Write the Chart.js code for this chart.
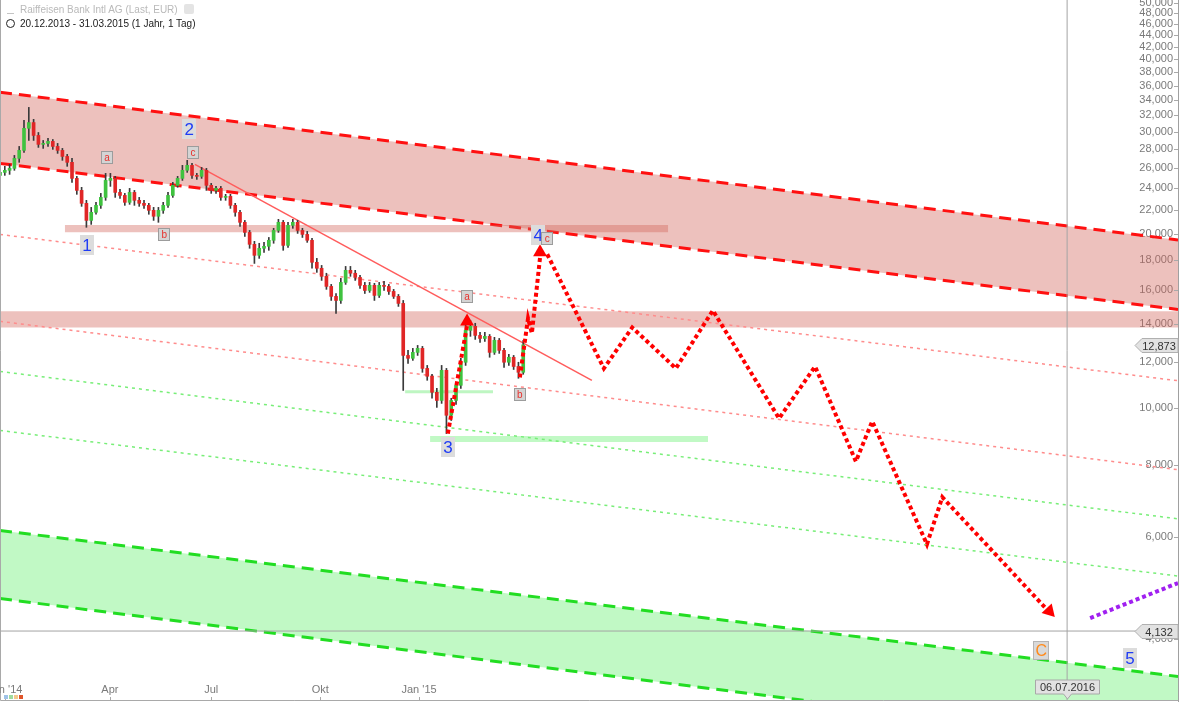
<!DOCTYPE html>
<html>
<head>
<meta charset="utf-8">
<script src="https://cdn.jsdelivr.net/npm/chart.js@4.4.1/dist/chart.umd.min.js"></script>
<style>
  body { margin: 0; background: #fff; font-family: "Liberation Sans", Arial, sans-serif; }
  #wrap { position: relative; width: 1183px; height: 702px; }
  .hdr { position: absolute; left: 20px; font-size: 10px; white-space: nowrap; }
  #h1 { top: 4px; color: #b9b9b9; }
  #h2 { top: 18px; color: #1a1a1a; }
  #gear { display: inline-block; vertical-align: -1px; margin-left: 6px; width: 10px; height: 10px; background: #e4e4e4; border-radius: 2px; }
  #ico1 { position: absolute; left: 7px; top: 6px; width: 7px; height: 7px; border-bottom: 1px solid #c4c4c4; }
  #ico2 { position: absolute; left: 6px; top: 19px; width: 7px; height: 7px; border: 1.5px solid #222; border-radius: 50%; }
  .sq { position: absolute; top: 695px; width: 4px; height: 4px; }
</style>
</head>
<body>
<div id="wrap">
  <canvas id="rbiChart" width="1183" height="702"></canvas>
  <div id="ico1"></div>
  <div class="hdr" id="h1">Raiffeisen Bank Intl AG (Last, EUR)<span id="gear"></span></div>
  <div id="ico2"></div>
  <div class="hdr" id="h2">20.12.2013 - 31.03.2015 (1 Jahr, 1 Tag)</div>
  <div class="sq" style="left:4px;background:#9fc3e8"></div>
  <div class="sq" style="left:9px;background:#9fdc9f"></div>
  <div class="sq" style="left:14px;background:#f2c98c"></div>
  <div class="sq" style="left:19px;background:#e0552a"></div>
</div>
<script>
// x axis unit = one candle slot (about 3 trading days), prices in EUR
const candleOpen = [
  25.22, 25.52, 25.73, 25.93, 26.98, 27.85, 30.40, 31.10, 29.55, 28.52,
  28.63, 28.86, 28.29, 27.85, 27.19, 26.56, 24.92, 23.76, 22.57, 21.09,
  21.78, 22.39, 23.11, 24.72, 24.92, 23.57, 23.29, 22.66, 23.57, 22.84,
  22.57, 22.39, 21.95, 21.44, 21.95, 22.39, 23.29, 24.24, 24.92, 25.73,
  26.24, 25.22, 25.12, 25.73, 24.24, 23.76, 23.95, 23.11, 23.20, 22.39,
  21.78, 20.93, 20.11, 19.18, 18.36, 18.88, 19.03, 19.49, 20.27, 20.93,
  19.10, 20.68, 20.93, 20.27, 19.95, 19.49, 17.86, 17.44, 16.89, 16.23,
  15.60, 15.35, 16.49, 17.30, 17.10, 16.82, 16.30, 15.97, 16.30, 15.66,
  16.30, 16.23, 15.91, 15.60, 15.17, 12.34, 12.20, 12.49, 12.69, 11.72,
  11.36, 10.66, 10.32, 11.63, 9.73, 10.32, 10.96, 12.01, 13.63, 13.85,
  13.36, 13.20, 13.31, 12.49, 13.10, 12.59, 12.01, 12.25, 11.81, 11.54
];
const candleClose = [
  25.52, 25.73, 25.93, 26.98, 27.85, 30.40, 31.10, 29.55, 28.52, 28.63,
  28.86, 28.29, 27.85, 27.19, 26.56, 24.92, 23.76, 22.57, 21.09, 21.78,
  22.39, 23.11, 24.72, 24.92, 23.57, 23.29, 22.66, 23.57, 22.84, 22.57,
  22.39, 21.95, 21.44, 21.95, 22.39, 23.29, 24.24, 24.92, 25.73, 26.24,
  25.22, 25.12, 25.73, 24.24, 23.76, 23.95, 23.11, 23.20, 22.39, 21.78,
  20.93, 20.11, 19.18, 18.36, 18.88, 19.03, 19.49, 20.27, 20.93, 19.10,
  20.68, 20.93, 20.27, 19.95, 19.49, 17.86, 17.44, 16.89, 16.23, 15.60,
  15.35, 16.49, 17.30, 17.10, 16.82, 16.30, 15.97, 16.30, 15.66, 16.30,
  16.23, 15.91, 15.60, 15.17, 12.34, 12.20, 12.49, 12.69, 11.72, 11.36,
  10.66, 10.32, 11.63, 9.73, 10.32, 10.96, 12.01, 13.63, 13.85, 13.36,
  13.20, 13.31, 12.49, 13.10, 12.59, 12.01, 12.25, 11.81, 11.54, 12.87
];
const candleHigh = [
  25.93, 26.14, 26.35, 27.30, 28.29, 31.38, 33.03, 31.50, 29.90, 28.97,
  29.20, 29.08, 28.63, 28.07, 27.41, 26.98, 25.12, 24.05, 22.84, 22.21,
  22.66, 23.48, 25.42, 25.42, 25.12, 23.86, 23.48, 23.95, 23.76, 23.11,
  22.84, 22.57, 22.21, 22.21, 22.66, 23.57, 24.53, 25.12, 26.24, 26.77,
  26.45, 25.42, 26.03, 25.93, 24.43, 24.14, 24.14, 23.39, 23.39, 22.57,
  21.95, 21.09, 20.27, 19.41, 19.26, 19.33, 19.71, 20.44, 21.18, 21.09,
  20.93, 21.18, 21.09, 20.44, 20.19, 19.64, 18.14, 17.64, 17.10, 16.36,
  15.78, 16.76, 17.57, 17.57, 17.30, 16.96, 16.49, 16.49, 16.43, 16.49,
  16.56, 16.36, 16.04, 15.72, 15.35, 12.59, 12.69, 12.84, 12.79, 11.86,
  11.45, 10.83, 11.86, 11.72, 10.41, 11.09, 12.20, 14.30, 14.18, 14.02,
  13.52, 13.52, 13.41, 13.26, 13.20, 12.69, 12.39, 12.34, 12.01, 13.10
];
const candleLow = [
  24.92, 25.22, 25.32, 25.73, 26.56, 27.63, 28.97, 28.97, 28.18, 28.07,
  28.29, 27.96, 27.52, 26.77, 26.14, 24.53, 23.39, 22.30, 20.52, 20.76,
  21.61, 22.12, 22.84, 24.14, 23.11, 23.02, 22.39, 22.48, 22.39, 22.30,
  22.12, 21.61, 21.09, 20.93, 21.69, 22.21, 23.11, 24.05, 24.72, 25.52,
  24.92, 24.82, 24.92, 23.76, 23.48, 23.48, 22.84, 22.84, 22.12, 21.44,
  20.60, 19.79, 18.88, 17.78, 18.14, 18.58, 18.73, 19.26, 20.11, 18.73,
  18.95, 20.44, 20.03, 19.71, 19.33, 17.44, 17.16, 16.62, 16.04, 15.35,
  14.58, 15.17, 16.36, 16.89, 16.62, 16.10, 15.78, 15.85, 15.35, 15.53,
  15.97, 15.72, 15.47, 14.99, 10.74, 11.96, 12.10, 12.34, 11.54, 11.18,
  10.41, 10.04, 10.20, 9.05, 9.53, 10.16, 10.83, 11.86, 13.31, 13.15,
  13.00, 13.05, 12.25, 12.39, 12.44, 11.77, 11.86, 11.67, 11.27, 11.45
];

// trend lines: [start, end] over the full x range
const fullX = [0, 245.4];
const redChannelTop = [35.09, 19.52];
const redChannelBottom = [26.45, 14.81];
const greenChannelTop = [6.16, 3.45];
const greenChannelBottom = [4.70, 2.60];
const redDottedUpper = [19.95, 11.16];
const redDottedLower = [14.13, 7.84];
const greenDottedUpper = [11.58, 6.45];
const greenDottedLower = [9.16, 5.14];
const downTrendX = [40.6, 123.3];
const downTrendY = [26.35, 11.18];

// support / resistance zones
const resZoneX = [13.5, 139.2];
const resZoneY = [20.70, 20.12];
const midZoneY = [14.70, 13.79];
const supLineX = [84.4, 102.7];
const supLineY = 10.68;
const supZoneX = [89.6, 147.5];
const supZoneY = [8.96, 8.75];

// projected Elliott path
const proj1X = [93.3, 97.3];
const proj1Y = [9.05, 13.9];
const proj2X = [108.3, 110.0, 110.8, 112.5];
const proj2Y = [11.31, 14.30, 13.47, 18.2];
const proj3X = [114.0, 125.8, 131.7, 140.8, 148.5, 162.3, 169.8, 178.3, 181.7, 193.1, 196.3, 218.1];
const proj3Y = [18.44, 11.72, 13.79, 11.72, 14.75, 9.61, 11.81, 8.10, 9.50, 5.83, 7.03, 4.50];
const arrowX = [97.3, 112.5, 218.6];
const arrowY = [14.12, 18.58, 4.47];
const arrowRot = [0, 0, 137];
const purpleX = [227.1, 245.4];
const purpleY = [4.35, 5.0];

const lastPrice = 12.873;
const markPrice = 4.132;
const markX = 222.3;
const markLabel = '06.07.2016';

const waveText = ['1', '2', '3', '4', 'c', '5', 'C', 'a', 'b', 'c', 'a', 'b'];
const waveKind = ['num', 'num', 'num', 'num', 'sub', 'num', 'big', 'sub', 'sub', 'sub', 'sub', 'sub'];
const waveX = [18.1, 39.4, 93.3, 112.1, 114.0, 235.4, 216.9, 22.3, 34.2, 40.2, 97.3, 108.3];
const waveY = [19.10, 30.26, 8.57, 19.87, 19.64, 3.71, 3.83, 27.08, 19.95, 27.63, 15.60, 10.57];

const yTicks = [4, 6, 8, 10, 12, 14, 16, 18, 20, 22, 24, 26, 28, 30, 32, 34, 36, 38, 40, 42, 44, 46, 48, 50];
const xTickPos = [1.0, 22.9, 44.0, 66.7, 87.3];
const xTickLabels = ["Jan '14", 'Apr', 'Jul', 'Okt', "Jan '15"];

const yMin = 3.13, yMax = 50.59;

function pts(xs, ys) { return xs.map((x, i) => ({ x: x, y: ys[i] })); }
function flat(xs, v) { return xs.map(x => ({ x: x, y: v })); }
function fmt(v) { return v.toFixed(3).replace('.', ','); }

const pinkFill = 'rgba(210,100,90,0.40)';
const greenFill = 'rgba(100,240,110,0.40)';

function trend(data, color, width, dash, order, fill, bg) {
  return {
    data: data, borderColor: color, borderWidth: width, borderDash: dash,
    pointRadius: 0, fill: fill || false, backgroundColor: bg || 'transparent', order: order
  };
}

const overlay = {
  id: 'overlay',
  afterDraw(chart) {
    const { ctx, chartArea: a, scales: { x, y } } = chart;
    ctx.save();
    ctx.strokeStyle = '#a9a9a9';
    ctx.lineWidth = 1;
    ctx.beginPath();
    ctx.moveTo(a.left + 0.5, a.top);
    ctx.lineTo(a.left + 0.5, a.bottom - 0.5);
    ctx.lineTo(a.right, a.bottom - 0.5);
    y.ticks.forEach(t => {
      const py = Math.round(y.getPixelForValue(t.value)) + 0.5;
      ctx.moveTo(a.right - 4, py);
      ctx.lineTo(a.right, py);
    });
    xTickPos.forEach(v => {
      const px = Math.round(x.getPixelForValue(v)) + 0.5;
      ctx.moveTo(px, a.bottom - 4);
      ctx.lineTo(px, a.bottom);
    });
    ctx.stroke();

    ctx.font = '11px "Liberation Sans", Arial, sans-serif';
    ctx.fillStyle = '#7a7a7a';
    ctx.textAlign = 'center';
    ctx.textBaseline = 'middle';
    xTickPos.forEach((v, i) => ctx.fillText(xTickLabels[i], x.getPixelForValue(v), a.bottom - 11));

    // wave labels
    waveText.forEach((t, i) => {
      const cx = x.getPixelForValue(waveX[i]);
      const cy = y.getPixelForValue(waveY[i]);
      let w, h, font, color, bg, border;
      if (waveKind[i] === 'num') {
        w = 14; h = 20; font = '17px "Liberation Sans", Arial'; color = '#1f3cf5'; bg = '#dcdcdc'; border = null;
      } else if (waveKind[i] === 'big') {
        w = 16; h = 19; font = '16px "Liberation Sans", Arial'; color = '#ff8a1a'; bg = '#d9d9d9'; border = '#b4b4b4';
      } else {
        w = 12; h = 13; font = '10px "Liberation Sans", Arial'; color = '#e8302c'; bg = '#d4d4d4'; border = '#9c9c9c';
      }
      ctx.fillStyle = bg;
      ctx.fillRect(Math.round(cx - w / 2), Math.round(cy - h / 2), w, h);
      if (border) {
        ctx.strokeStyle = border;
        ctx.strokeRect(Math.round(cx - w / 2) + 0.5, Math.round(cy - h / 2) + 0.5, w - 1, h - 1);
      }
      ctx.fillStyle = color;
      ctx.font = font;
      ctx.fillText(t, cx, cy + 1);
    });

    // price flags on the right
    ctx.font = '11px "Liberation Sans", Arial, sans-serif';
    [lastPrice, markPrice].forEach(v => {
      const py = Math.round(y.getPixelForValue(v)) + 0.5;
      const r = a.right, l = r - 36;
      ctx.beginPath();
      ctx.moveTo(l - 7, py);
      ctx.lineTo(l, py - 7);
      ctx.lineTo(r, py - 7);
      ctx.lineTo(r, py + 7);
      ctx.lineTo(l, py + 7);
      ctx.closePath();
      ctx.fillStyle = '#e2e2e2';
      ctx.fill();
      ctx.strokeStyle = '#b0b0b0';
      ctx.stroke();
      ctx.fillStyle = '#333';
      ctx.fillText(fmt(v), (l + r) / 2 - 1, py + 1);
    });

    // date flag at the bottom
    const dx = Math.round(x.getPixelForValue(markX)) + 0.5;
    const top = a.bottom - 21, bot = a.bottom - 7;
    ctx.beginPath();
    ctx.moveTo(dx - 32, top);
    ctx.lineTo(dx + 32, top);
    ctx.lineTo(dx + 32, bot);
    ctx.lineTo(dx + 4, bot);
    ctx.lineTo(dx, bot + 5);
    ctx.lineTo(dx - 4, bot);
    ctx.lineTo(dx - 32, bot);
    ctx.closePath();
    ctx.fillStyle = '#e2e2e2';
    ctx.fill();
    ctx.strokeStyle = '#a8a8a8';
    ctx.stroke();
    ctx.fillStyle = '#333';
    ctx.fillText(markLabel, dx, (top + bot) / 2 + 1);
    ctx.restore();
  }
};

const bodyColors = candleOpen.map((o, i) => candleClose[i] >= o ? '#3fc23f' : '#e02626');

const datasets = [
  trend(pts(fullX, redChannelTop), '#ff1010', 3, [12, 7], 30, '+1', pinkFill),
  trend(pts(fullX, redChannelBottom), '#ff1010', 3, [12, 7], 29),
  trend(pts(fullX, greenChannelTop), '#22dd22', 3, [12, 7], 30, '+1', greenFill),
  trend(pts(fullX, greenChannelBottom), '#22dd22', 3, [12, 7], 29),
  trend(flat(resZoneX, resZoneY[0]), 'transparent', 1, [], 28, '+1', pinkFill),
  trend(flat(resZoneX, resZoneY[1]), 'transparent', 1, [], 28),
  trend(flat(fullX, midZoneY[0]), 'transparent', 1, [], 28, '+1', pinkFill),
  trend(flat(fullX, midZoneY[1]), 'transparent', 1, [], 28),
  trend(flat(supZoneX, supZoneY[0]), 'transparent', 1, [], 28, '+1', greenFill),
  trend(flat(supZoneX, supZoneY[1]), 'transparent', 1, [], 28),
  trend(flat(supLineX, supLineY), 'rgba(110,235,120,0.45)', 3, [], 28),
  trend(pts(fullX, redDottedUpper), '#ff8c8c', 1.5, [3, 4], 20),
  trend(pts(fullX, redDottedLower), '#ff8c8c', 1.5, [3, 4], 20),
  trend(pts(fullX, greenDottedUpper), '#78ee78', 1.5, [3, 4], 20),
  trend(pts(fullX, greenDottedLower), '#78ee78', 1.5, [3, 4], 20),
  trend(flat(fullX, markPrice), '#a4a4a4', 1, [], 19),
  trend([{ x: markX, y: yMin }, { x: markX, y: yMax }], '#a4a4a4', 1, [], 19),
  trend(pts(downTrendX, downTrendY), '#ff5c5c', 1.5, [], 15),
  {
    type: 'bar',
    data: candleLow.map((l, i) => ({ x: i, y: [l, candleHigh[i]] })),
    backgroundColor: '#3a3a3a', barThickness: 1, grouped: false, order: 10
  },
  {
    type: 'bar',
    data: candleOpen.map((o, i) => ({ x: i, y: [o, candleClose[i]] })),
    backgroundColor: bodyColors, barThickness: 3, minBarLength: 1, grouped: false, order: 9
  },
  trend(pts(proj1X, proj1Y), '#ff0000', 4, [4, 3], 5),
  trend(pts(proj2X, proj2Y), '#ff0000', 4, [4, 3], 5),
  trend(pts(proj3X, proj3Y), '#ff0000', 4, [4, 3], 5),
  trend(pts(purpleX, purpleY), '#a020f0', 4, [4, 3], 5),
  {
    data: pts(arrowX, arrowY), showLine: false, pointStyle: 'triangle', pointRadius: 8,
    pointRotation: arrowRot, pointBackgroundColor: '#ff0000', pointBorderWidth: 0, order: 4
  }
];

new Chart(document.getElementById('rbiChart').getContext('2d'), {
  type: 'line',
  data: { datasets: datasets },
  options: {
    responsive: false,
    animation: false,
    devicePixelRatio: 1,
    layout: { autoPadding: false, padding: { left: 0, right: 0, top: 0, bottom: 1 } },
    plugins: { legend: { display: false }, tooltip: { enabled: false } },
    scales: {
      x: {
        type: 'linear', min: 0, max: 245.4, bounds: 'data', offset: false, display: false
      },
      y: {
        type: 'logarithmic', position: 'right', min: yMin, max: yMax, bounds: 'data', z: 1,
        grid: { display: false, drawTicks: false },
        border: { display: true, color: '#a0a0a0' },
        afterBuildTicks: s => { s.ticks = yTicks.map(v => ({ value: v })); },
        afterFit: s => { s.width = 5; s.paddingTop = 0; s.paddingBottom = 0; },
        ticks: {
          mirror: true, padding: -5, autoSkip: false, color: '#7a7a7a',
          font: { family: '"Liberation Sans", Arial, sans-serif', size: 11 },
          callback: v => fmt(v)
        }
      }
    }
  },
  plugins: [overlay]
});
</script>
</body>
</html>
